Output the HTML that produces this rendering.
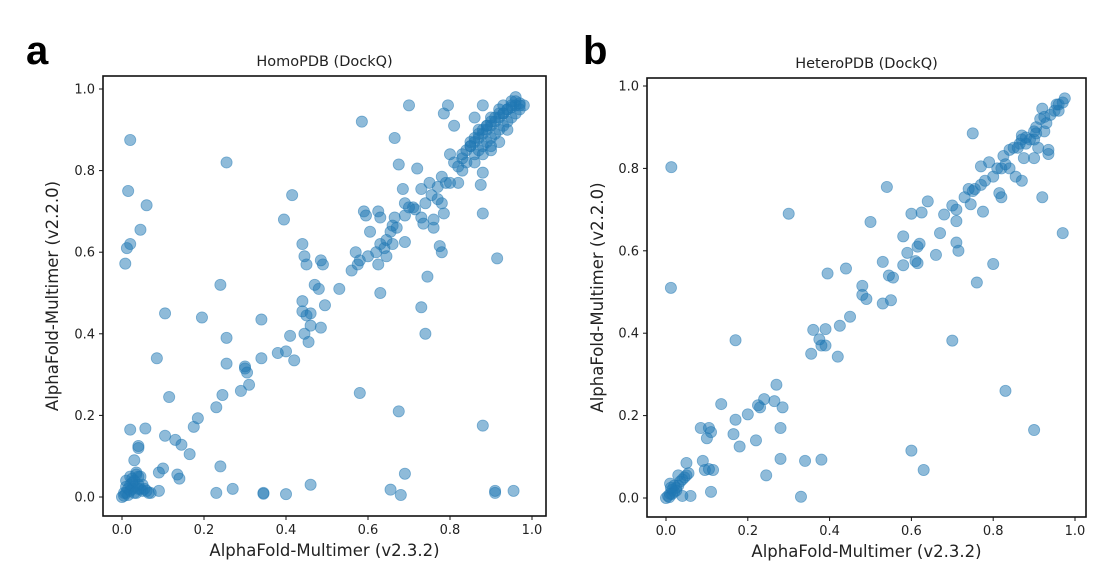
<!DOCTYPE html>
<html><head><meta charset="utf-8">
<style>
html,body{margin:0;padding:0;background:#fff;}
svg{display:block;font-family:"DejaVu Sans","Liberation Sans",sans-serif;}
</style></head>
<body>
<svg id="fig" width="1109" height="573" viewBox="0 0 1109 573"></svg>
<script>
// Panel a: HomoPDB
const homoX = [0.02,0.015,0.06,0.045,0.02,0.012,0.008,0.02,0.057,0.04,0.04,0.03,0.085,0.105,0.115,0.105,0.13,0.145,0.165,0.1,0.09,0.135,0.14,0.09,0.07,0.195,0.24,0.255,0.255,0.255,0.175,0.185,0.23,0.245,0.24,0.23,0.27,0.29,0.3,0.3,0.305,0.31,0.345,0.345,0.34,0.34,0.38,0.4,0.395,0.415,0.41,0.42,0.44,0.44,0.44,0.445,0.45,0.45,0.445,0.455,0.46,0.46,0.47,0.48,0.485,0.49,0.485,0.495,0.4,0.46,0.53,0.56,0.57,0.575,0.58,0.58,0.585,0.59,0.595,0.6,0.605,0.62,0.625,0.63,0.625,0.63,0.63,0.64,0.645,0.645,0.655,0.66,0.665,0.67,0.66,0.665,0.675,0.685,0.69,0.69,0.69,0.675,0.69,0.655,0.68,0.7,0.7,0.71,0.715,0.72,0.73,0.73,0.735,0.74,0.73,0.74,0.745,0.75,0.755,0.76,0.76,0.77,0.77,0.775,0.78,0.78,0.785,0.79,0.8,0.78,0.785,0.795,0.8,0.81,0.82,0.88,0.875,0.88,0.91,0.91,0.955,0.915,0.88,0.88,0.86,
0.82,0.83,0.84,0.85,0.86,0.87,0.88,0.89,0.9,0.91,0.92,0.93,0.94,0.95,0.96,0.97,0.83,0.85,0.86,0.87,0.88,0.89,0.9,0.91,0.92,0.93,0.94,0.95,0.96,0.97,0.84,0.86,0.87,0.88,0.89,0.9,0.91,0.92,0.93,0.94,0.95,0.96,0.85,0.87,0.89,0.9,0.92,0.93,0.95,0.96,0.97,0.98,0.94,0.9,0.88,0.86,0.92,0.81,0.83,0.9,
0.0,0.005,0.01,0.015,0.02,0.025,0.03,0.035,0.04,0.045,0.05,0.01,0.02,0.03,0.04,0.05,0.015,0.025,0.035,0.02,0.03,0.01,0.04,0.025,0.055,0.06,0.045,0.005,0.035,0.065];
const homoY = [0.875,0.75,0.715,0.655,0.62,0.61,0.572,0.165,0.168,0.12,0.125,0.09,0.34,0.45,0.245,0.15,0.14,0.128,0.105,0.07,0.06,0.055,0.045,0.015,0.01,0.44,0.52,0.82,0.39,0.327,0.172,0.193,0.22,0.25,0.075,0.01,0.02,0.26,0.315,0.32,0.305,0.275,0.01,0.008,0.435,0.34,0.353,0.357,0.68,0.74,0.395,0.335,0.62,0.48,0.455,0.59,0.57,0.445,0.4,0.38,0.45,0.42,0.52,0.51,0.58,0.57,0.415,0.47,0.007,0.03,0.51,0.555,0.6,0.57,0.58,0.255,0.92,0.7,0.69,0.59,0.65,0.6,0.7,0.685,0.57,0.5,0.62,0.61,0.59,0.63,0.65,0.665,0.685,0.66,0.62,0.88,0.815,0.755,0.72,0.69,0.625,0.21,0.057,0.018,0.005,0.96,0.71,0.71,0.705,0.805,0.755,0.685,0.67,0.72,0.465,0.4,0.54,0.77,0.74,0.66,0.68,0.76,0.73,0.615,0.6,0.72,0.695,0.77,0.77,0.785,0.94,0.96,0.84,0.91,0.77,0.695,0.765,0.175,0.015,0.01,0.015,0.585,0.795,0.96,0.93,
0.81,0.83,0.85,0.86,0.87,0.88,0.89,0.9,0.91,0.92,0.93,0.94,0.95,0.955,0.96,0.965,0.84,0.86,0.88,0.89,0.9,0.91,0.92,0.93,0.94,0.94,0.95,0.96,0.97,0.96,0.82,0.84,0.85,0.86,0.87,0.88,0.89,0.9,0.91,0.92,0.93,0.94,0.87,0.9,0.91,0.93,0.95,0.96,0.97,0.98,0.95,0.96,0.9,0.86,0.84,0.82,0.87,0.82,0.8,0.85,
0.0,0.003,0.01,0.02,0.03,0.02,0.04,0.01,0.03,0.02,0.015,0.04,0.05,0.025,0.05,0.03,0.005,0.035,0.06,0.015,0.01,0.025,0.02,0.045,0.02,0.015,0.05,0.01,0.055,0.01];
// Panel b: HeteroPDB
const heteroX = [0.013,0.012,0.3,0.17,0.5,0.54,0.75,0.7,0.83,0.9,0.97,0.6,0.63,0.33,0.245,0.28,0.34,0.38,0.11,0.06,0.04,0.09,0.095,0.105,0.115,0.085,0.105,0.11,0.1,0.135,0.165,0.17,0.18,0.2,0.22,0.225,0.23,0.24,0.265,0.27,0.28,0.285,0.355,0.36,0.375,0.38,0.39,0.39,0.395,0.42,0.425,0.44,0.45,0.48,0.48,0.49,0.53,0.53,0.545,0.55,0.555,0.58,0.58,0.59,0.6,0.61,0.615,0.615,0.62,0.625,0.64,0.66,0.67,0.68,0.7,0.71,0.71,0.71,0.715,0.73,0.74,0.75,0.745,0.755,0.76,0.77,0.77,0.775,0.78,0.79,0.8,0.8,0.81,0.82,0.815,0.82,0.825,0.83,0.84,0.84,0.85,0.855,0.86,0.865,0.87,0.87,0.87,0.875,0.88,0.89,0.9,0.9,0.905,0.91,0.915,0.92,0.92,0.925,0.93,0.935,0.935,0.94,0.95,0.955,0.96,0.96,0.97,0.975,0.905,0.88,0.925,0.9,
0.0,0.005,0.01,0.015,0.02,0.025,0.03,0.02,0.01,0.03,0.045,0.05,0.055,0.05,0.035,0.04,0.015,0.008,0.025,0.012];
const heteroY = [0.803,0.51,0.69,0.383,0.67,0.755,0.885,0.382,0.26,0.165,0.643,0.115,0.068,0.003,0.055,0.095,0.09,0.093,0.015,0.005,0.005,0.09,0.068,0.07,0.068,0.17,0.17,0.16,0.145,0.228,0.155,0.19,0.125,0.203,0.14,0.225,0.22,0.24,0.235,0.275,0.17,0.22,0.35,0.408,0.385,0.37,0.37,0.41,0.545,0.343,0.418,0.557,0.44,0.515,0.493,0.483,0.573,0.472,0.54,0.48,0.535,0.565,0.635,0.595,0.69,0.575,0.57,0.61,0.617,0.693,0.72,0.59,0.643,0.688,0.71,0.7,0.672,0.62,0.6,0.73,0.75,0.745,0.713,0.75,0.523,0.76,0.805,0.695,0.77,0.815,0.78,0.568,0.8,0.8,0.74,0.73,0.83,0.81,0.845,0.8,0.85,0.78,0.85,0.86,0.87,0.88,0.77,0.825,0.86,0.87,0.825,0.89,0.9,0.85,0.92,0.73,0.945,0.89,0.91,0.835,0.845,0.93,0.94,0.955,0.94,0.955,0.96,0.97,0.885,0.875,0.925,0.87,
0.0,0.005,0.01,0.02,0.015,0.025,0.03,0.03,0.035,0.055,0.05,0.055,0.06,0.085,0.04,0.045,0.01,0.002,0.018,0.025];
const tickVals = [0.0,0.2,0.4,0.6,0.8,1.0];
const tickLabels = ["0.0","0.2","0.4","0.6","0.8","1.0"];

const NS = "http://www.w3.org/2000/svg";
const svg = document.getElementById('fig');
function mk(tag, attrs, parent){const e=document.createElementNS(NS,tag);for(const k in attrs)e.setAttribute(k,attrs[k]);(parent||svg).appendChild(e);return e;}

function panel(cfg, xs, ys){
  const g = mk('g',{});
  
  
  const sx = v => cfg.x0 + v*(cfg.x1-cfg.x0);
  const sy = v => cfg.y0 - v*(cfg.y0-cfg.y1);
  const pts = mk('g',{},g);
  
  
  for(let i=0;i<xs.length;i++){
    const c = mk('circle',{cx:sx(xs[i]),cy:sy(ys[i]),r:5.6,fill:'#1f77b4','fill-opacity':0.5,stroke:'#1f77b4','stroke-opacity':0.5,'stroke-width':0.8},pts);
    
    
  }
  const fr = mk('rect',{x:cfg.L,y:cfg.T,width:cfg.R-cfg.L,height:cfg.B-cfg.T,fill:'none',stroke:'#111','stroke-width':1.6},g);
  
  
  for(let i=0;i<tickVals.length;i++){
    const x=sx(tickVals[i]), y=sy(tickVals[i]);
    mk('line',{x1:x,x2:x,y1:cfg.B,y2:cfg.B+4,stroke:'#111','stroke-width':1},g);
    const tx=mk('text',{x:x,y:cfg.B+18,'text-anchor':'middle','font-size':13,fill:'#222'},g);
    tx.textContent=tickLabels[i];
    
    
    mk('line',{x1:cfg.L-4,x2:cfg.L,y1:y,y2:y,stroke:'#111','stroke-width':1},g);
    const ty=mk('text',{x:cfg.L-8,y:y+4.5,'text-anchor':'end','font-size':13,fill:'#222'},g);
    ty.textContent=tickLabels[i];
    
    
  }
  const t=mk('text',{x:(cfg.L+cfg.R)/2,y:cfg.T-10,'text-anchor':'middle','font-size':14.5,fill:'#222'},g);
  t.textContent=cfg.title;
  
  
  const xl=mk('text',{x:(cfg.L+cfg.R)/2,y:cfg.B+40,'text-anchor':'middle','font-size':16.5,fill:'#222'},g);
  xl.textContent='AlphaFold-Multimer (v2.3.2)';
  
  
  const yc=(cfg.T+cfg.B)/2;
  const yl=mk('text',{x:cfg.ylx,y:yc,'text-anchor':'middle','font-size':16.5,fill:'#222',transform:`rotate(-90 ${cfg.ylx} ${yc})`},g);
  yl.textContent='AlphaFold-Multimer (v2.2.0)';
  
  
  const lt=mk('text',{x:cfg.lx,y:64,'font-size':40,'font-weight':'bold',fill:'#000','font-family':'"Liberation Sans",sans-serif'},g);
  lt.textContent=cfg.letter;
  
  
}
panel({name:'panel-a-homopdb',title:'HomoPDB (DockQ)',letter:'a',lx:26,x0:122,x1:532,y0:497,y1:89,L:103,R:546,T:76,B:516,ylx:58},homoX,homoY);
panel({name:'panel-b-heteropdb',title:'HeteroPDB (DockQ)',letter:'b',lx:583,x0:666,x1:1075,y0:498,y1:86,L:647,R:1086,T:78,B:517,ylx:603},heteroX,heteroY);
</script>
</body></html>
